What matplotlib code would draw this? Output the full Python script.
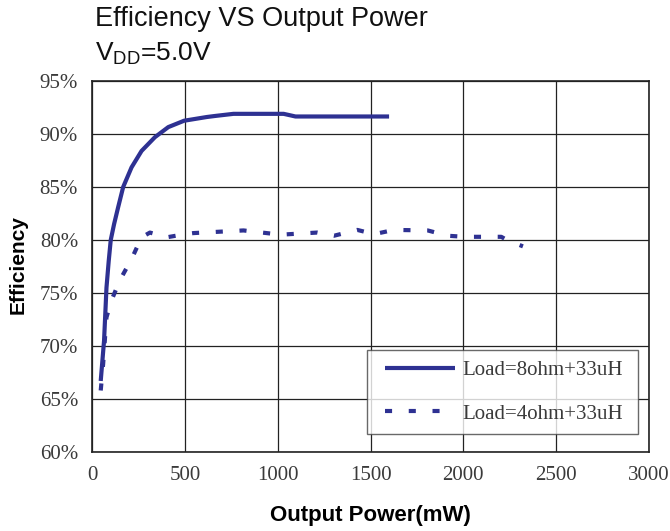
import numpy as np
import matplotlib
matplotlib.use("Agg")
import matplotlib.pyplot as plt
from matplotlib.legend_handler import HandlerLine2D

# data (output power in mW, efficiency in %)
power_8ohm = [47, 65, 78, 90, 101, 119, 141, 168, 213, 267, 339, 411, 496, 618,
              663, 762, 1032, 1096, 1600]
eff_8ohm = [66.7, 70.5, 75.5, 78.0, 80.0, 81.5, 83.1, 85.0, 86.85, 88.4, 89.7,
            90.65, 91.25, 91.6, 91.7, 91.9, 91.9, 91.65, 91.65]

power_4ohm = [47, 60, 78, 105, 150, 213, 267, 312, 402, 501, 546, 816, 1015,
              1213, 1303, 1429, 1519, 1627, 1808, 1916, 2005, 2204, 2240, 2321]
eff_4ohm = [65.8, 68.3, 72.7, 74.3, 76.2, 78.2, 80.25, 80.7, 80.25, 80.55, 80.65,
            80.9, 80.5, 80.7, 80.4, 80.95, 80.55, 80.95, 80.9, 80.4, 80.3, 80.3,
            79.95, 79.4]

x_ticks = [0, 500, 1000, 1500, 2000, 2500, 3000]
y_ticks = [60, 65, 70, 75, 80, 85, 90, 95]

line_color = '#2e3192'

fig = plt.figure(figsize=(6.7, 5.31), dpi=100)
ax = fig.add_axes([0.1373, 0.1488, 0.8314, 0.6987])

l8, = ax.plot(power_8ohm, eff_8ohm, color=line_color, lw=3, solid_capstyle='butt',
              label='Load=8ohm+33uH')
l4, = ax.plot(power_4ohm, eff_4ohm, color=line_color, lw=3, linestyle=(0, (1.7, 4)),
              dash_capstyle='butt', label='Load=4ohm+33uH')

ax.set_xlim(0, 3000)
ax.set_ylim(60, 95)
ax.set_xticks(x_ticks)
ax.set_yticks(y_ticks)
ax.set_xticklabels([str(v) for v in x_ticks], family='Liberation Serif',
                   fontsize=15, color='#3a3a3a')
ax.set_yticklabels([f'{v}%' for v in y_ticks], family='Liberation Serif',
                   fontsize=15, color='#3a3a3a')
ax.tick_params(length=0, pad=10)
ax.grid(True, color='#222222', lw=0.9)
ax.set_axisbelow(True)
for s in ax.spines.values():
    s.set_color('#222222')
    s.set_linewidth(1.2)

# handle drawn a bit inset from the legend border, like the reference
hmap = {l8: HandlerLine2D(xpad=0.37), l4: HandlerLine2D(xpad=0.37)}
leg = ax.legend(loc='lower left', bbox_to_anchor=(0.494, 0.0485, 0.486, 0.229),
                mode='expand', frameon=True, fancybox=False, handlelength=3.73,
                handletextpad=0.35, borderaxespad=0, borderpad=0.5, labelspacing=1.14,
                handler_map=hmap, prop={'family': 'Liberation Serif', 'size': 15})
leg.get_frame().set_edgecolor('#444444')
leg.get_frame().set_linewidth(1)
for t in leg.get_texts():
    t.set_color('#3a3a3a')

fig.text(95 / 670, 1 - 18.5 / 531, 'Efficiency VS Output Power', family='Liberation Sans',
         fontsize=19.5, va='center', ha='left', color='#111111')
fig.text(95 / 670, 1 - 54 / 531, r'V$_{\mathregular{DD}}$=5.0V', family='Liberation Sans',
         fontsize=19, va='center', ha='left', color='#111111')

fig.text(370 / 670, 1 - 515 / 531, 'Output Power(mW)', family='Liberation Sans',
         fontsize=16, fontweight='bold', ha='center', va='center')
fig.text(18 / 670, 1 - 265 / 531, 'Efficiency', family='Liberation Sans',
         fontsize=15, fontweight='bold', ha='center', va='center', rotation=90)

fig.savefig('out.png', dpi=100, facecolor='white')
